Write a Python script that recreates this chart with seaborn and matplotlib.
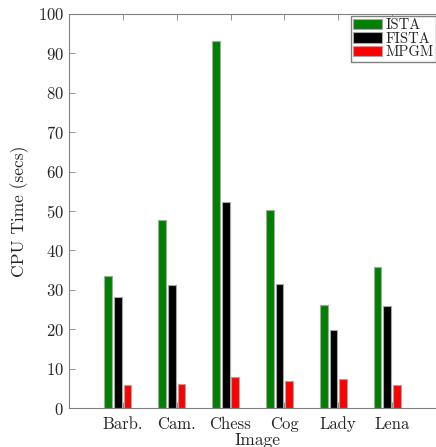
import pandas as pd
import seaborn as sns
import matplotlib.pyplot as plt

images = ['Barb.', 'Cam.', 'Chess', 'Cog', 'Lady', 'Lena']
ista = [33.5, 47.6, 93.2, 50.2, 26.1, 35.8]
fista = [28.1, 31.1, 52.3, 31.4, 19.9, 25.8]
mpgm = [5.8, 6.1, 8.0, 6.9, 7.3, 5.8]
methods = ['ISTA', 'FISTA', 'MPGM']
colors = ['#008000', '#000000', '#ff0000']

df = pd.DataFrame({'Image': images, 'ISTA': ista, 'FISTA': fista, 'MPGM': mpgm})
melted_df = pd.melt(df, id_vars = ['Image'], value_vars = methods,
                    var_name = 'Method', value_name = 'Time')

sns.set_style('ticks')
plt.rcParams['font.family'] = ['cmr10', 'DejaVu Serif']
plt.rcParams['axes.formatter.use_mathtext'] = True

fig = plt.figure(figsize = (4.36, 4.47), dpi = 100)
ax = fig.add_axes([0.158, 0.087, 0.865, 0.882])

sns.barplot(x = 'Image', y = 'Time', hue = 'Method', data = melted_df, order = images,
            hue_order = methods, palette = colors, saturation = 1, width = 0.54, gap = 0.2,
            edgecolor = '0.65', linewidth = 0.8, ax = ax)

# matlab style grouping sits a bit left of the tick
for p in ax.patches:
    p.set_x(p.get_x() - 0.09)

ax.set_xlim(-1, 6)
ax.set_ylim(0, 100)
ax.set_yticks(range(0, 101, 10))
ax.set_xlabel('Image', fontsize = 12.5, labelpad = 0)
ax.set_ylabel('CPU Time (secs)', fontsize = 12.5, labelpad = 6)
ax.tick_params(direction = 'in', length = 4, width = 0.6, color = '0.5',
               top = True, right = True, labelsize = 12)
ax.tick_params(axis = 'x', pad = 6)
for s in ax.spines.values():
    s.set_color('0.5')
    s.set_linewidth(0.8)

ax.legend(loc = 'upper left', bbox_to_anchor = (351 / 436, 1 - 16 / 447),
          bbox_transform = fig.transFigure, fontsize = 10.5, labelspacing = 0,
          handlelength = 2.0, handleheight = 0.7, handletextpad = 0.2, borderpad = 0.15,
          borderaxespad = 0, fancybox = False, edgecolor = '0.5', framealpha = 1)

plt.savefig('out.png', dpi = 100)
